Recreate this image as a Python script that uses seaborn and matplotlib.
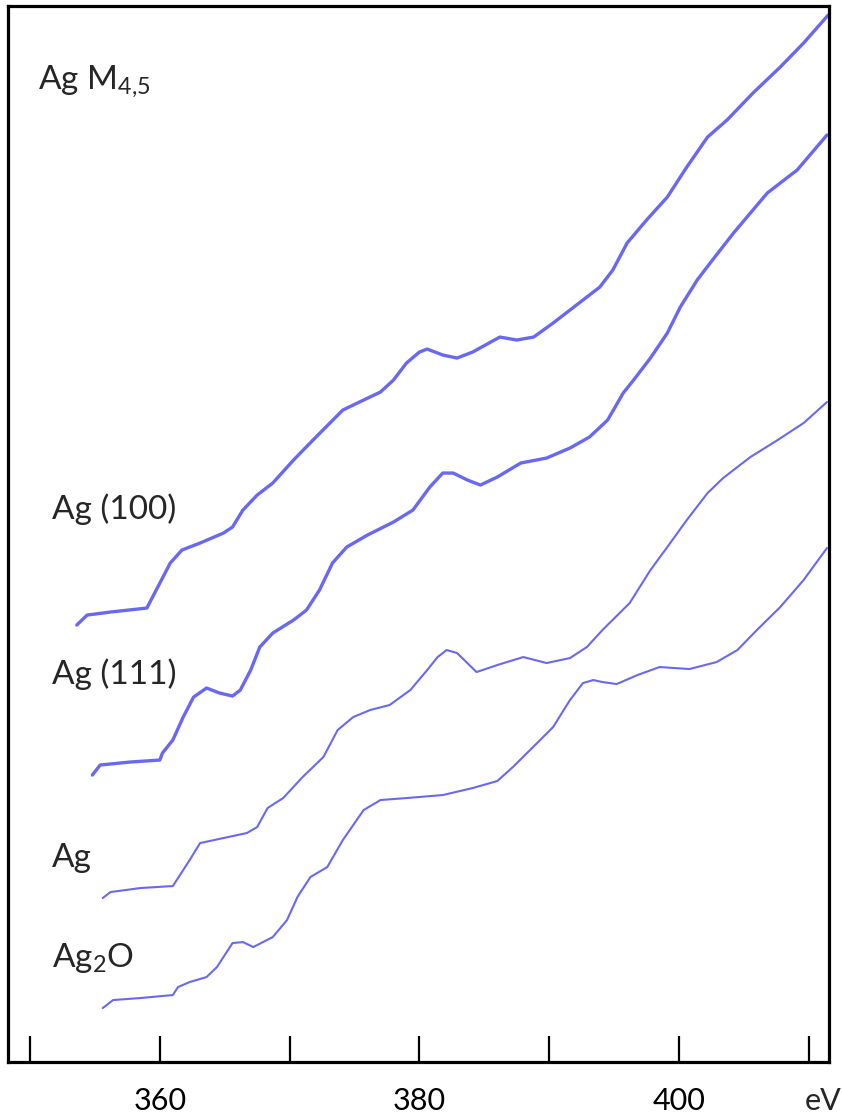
import numpy as np
import pandas as pd
import matplotlib
matplotlib.use("Agg")
import matplotlib.pyplot as plt
import seaborn as sns

# Ag M4,5 Auger spectra (kinetic energy in eV, intensity in arbitrary units, curves offset)
ag100_energy = [353.6, 354.4, 356.2, 359.0, 359.2, 360.0, 360.8, 361.7, 363.1, 364.9,
                365.6, 366.4, 367.5, 368.7, 370.3, 371.8, 374.1, 375.7, 377.0, 378.0,
                379.0, 380.0, 380.6, 381.8, 382.9, 384.1, 386.2, 387.5, 388.8, 390.3,
                392.1, 393.9, 394.9, 396.0, 397.5, 399.1, 400.6, 402.2, 403.7, 405.7,
                407.8, 409.6, 411.5]
ag100_counts = [43.7, 44.7, 45.0, 45.4, 45.9, 47.9, 49.9, 51.2, 51.9, 52.9,
                53.5, 55.2, 56.7, 57.9, 60.2, 62.2, 65.2, 66.2, 67.0, 68.2,
                69.9, 71.0, 71.3, 70.7, 70.4, 71.0, 72.5, 72.2, 72.5, 73.9,
                75.7, 77.5, 79.2, 81.9, 84.2, 86.5, 89.5, 92.5, 94.2, 96.9,
                99.5, 101.9, 104.7]

ag111_energy = [354.8, 355.4, 357.7, 360.0, 360.2, 361.0, 361.8, 362.6, 363.6, 364.6,
                365.6, 366.2, 367.0, 367.7, 368.7, 370.3, 371.3, 372.3, 373.3, 374.4,
                376.0, 378.0, 379.5, 380.8, 381.8, 382.6, 383.7, 384.7, 386.0, 387.8,
                389.8, 391.6, 393.1, 394.5, 395.7, 396.5, 397.8, 399.1, 400.1, 401.4,
                402.4, 404.2, 406.8, 409.1, 411.4]
ag111_counts = [28.7, 29.7, 30.0, 30.2, 30.9, 32.2, 34.5, 36.5, 37.4, 36.9,
                36.6, 37.2, 39.2, 41.5, 42.9, 44.2, 45.2, 47.2, 49.9, 51.5,
                52.7, 54.0, 55.2, 57.5, 58.9, 58.9, 58.2, 57.7, 58.5, 59.9,
                60.4, 61.4, 62.5, 64.2, 66.9, 68.2, 70.4, 72.9, 75.5, 78.2,
                79.9, 82.9, 86.9, 89.2, 92.7]

ag_energy = [355.6, 356.2, 358.5, 361.0, 361.3, 362.3, 363.1, 364.9, 366.7, 367.5,
             368.3, 369.5, 371.0, 372.6, 373.7, 374.9, 376.2, 377.7, 379.3, 380.6,
             381.4, 382.1, 382.9, 384.4, 386.0, 388.0, 389.8, 391.6, 392.9, 394.1,
             396.2, 397.8, 399.1, 400.6, 402.2, 403.4, 405.5, 407.6, 409.6, 411.4]
ag_counts = [16.4, 17.0, 17.4, 17.6, 18.2, 20.2, 21.9, 22.4, 22.9, 23.5,
             25.4, 26.4, 28.5, 30.5, 33.2, 34.5, 35.2, 35.7, 37.2, 39.2,
             40.5, 41.2, 40.9, 39.0, 39.7, 40.5, 39.9, 40.4, 41.5, 43.2,
             45.9, 49.2, 51.5, 54.2, 56.9, 58.4, 60.5, 62.2, 63.9, 66.0]

ag2o_energy = [355.6, 356.4, 358.5, 361.0, 361.4, 362.3, 363.6, 364.4, 365.6, 366.4,
               367.2, 368.7, 369.8, 370.6, 371.6, 372.9, 374.1, 375.7, 377.0, 379.0,
               381.8, 384.1, 386.0, 387.2, 389.3, 390.3, 391.6, 392.6, 393.4, 394.1,
               395.2, 396.8, 398.5, 400.8, 402.9, 404.5, 406.0, 407.8, 409.6, 411.4]
ag2o_counts = [5.4, 6.2, 6.4, 6.7, 7.5, 8.0, 8.5, 9.5, 11.9, 12.0,
               11.5, 12.5, 14.2, 16.5, 18.5, 19.5, 22.2, 25.2, 26.2, 26.4,
               26.7, 27.4, 28.1, 29.5, 32.2, 33.5, 36.2, 37.9, 38.2, 38.0,
               37.8, 38.7, 39.5, 39.3, 40.0, 41.2, 43.2, 45.5, 48.2, 51.4]

sample_names = ["Ag (100)", "Ag (111)", "Ag", "Ag$_{2}$O"]
tick_values = [350, 360, 370, 380, 390, 400, 410]
tick_labels = ["", "360", "", "380", "", "400", ""]

sns.set_style("ticks")
plt.rcParams["font.family"] = ["Lato", "DejaVu Sans"]
plt.rcParams["mathtext.fontset"] = "custom"
plt.rcParams["mathtext.rm"] = "Lato"
plt.rcParams["mathtext.default"] = "regular"

fig = plt.figure(figsize=(8.42, 11.19), dpi=100)
ax = fig.add_axes([0.0095, 0.0509, 0.9751, 0.9437])

series = [
    (ag100_energy, ag100_counts, 2.4),
    (ag111_energy, ag111_counts, 2.4),
    (ag_energy, ag_counts, 1.5),
    (ag2o_energy, ag2o_counts, 1.5),
]
line_color = "#5858f2"
for energy, counts, lw in series:
    df = pd.DataFrame({"energy": energy, "counts": counts})
    sns.lineplot(data=df, x="energy", y="counts", ax=ax, color=line_color,
                 lw=lw, sort=False, estimator=None, alpha=0.9,
                 solid_joinstyle="round", solid_capstyle="round")

ax.set_xlim(348.3, 411.56)
ax.set_ylim(0, 105.6)
ax.set_xlabel("")
ax.set_ylabel("")
ax.set_yticks([])
ax.set_xticks(tick_values)
ax.set_xticklabels(tick_labels)
ax.tick_params(axis="x", direction="in", length=19, width=1.6, pad=18,
               labelsize=22, colors="black")
for side in ["left", "right", "top", "bottom"]:
    ax.spines[side].set_visible(True)
    ax.spines[side].set_linewidth(2.3)
    ax.spines[side].set_color("black")

# Unit label at the right end of the energy axis
ax.annotate("eV", xy=(411.1, 0), xycoords=("data", "axes fraction"),
            xytext=(0, -28), textcoords="offset points",
            ha="center", va="center", fontsize=22)

# Sample labels
label_fs = 24
ax.text(0.036, 0.922, "Ag M$_{4{,}5}$", transform=ax.transAxes, fontsize=label_fs,
        ha="left", va="baseline")
label_y = [0.514, 0.358, 0.185, 0.090]
for name, yy in zip(sample_names, label_y):
    ax.text(0.053, yy, name, transform=ax.transAxes, fontsize=label_fs,
            ha="left", va="baseline")

fig.savefig("out.png", dpi=100)
